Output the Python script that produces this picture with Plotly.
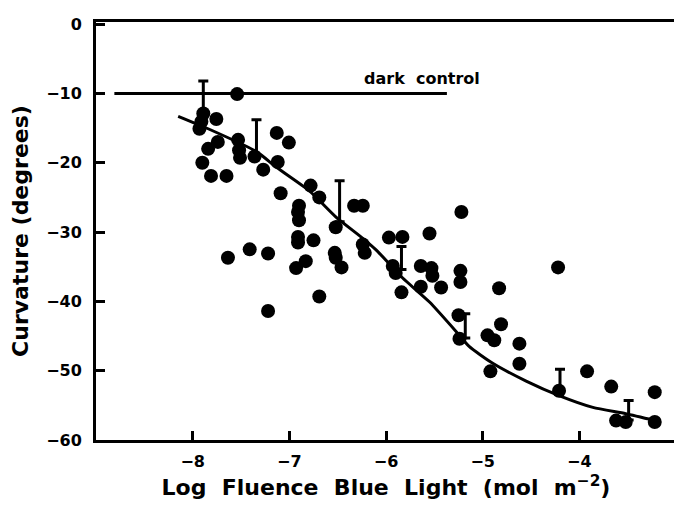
import plotly.graph_objects as go

# Scatter data (log fluence, curvature in degrees)
pts_x = [-7.54, -7.89, -7.91, -7.93, -7.755, -7.74, -7.84, -7.90, -7.81, -7.65,
         -7.53, -7.52, -7.51, -7.36, -7.13, -7.005, -7.12, -7.27, -7.09, -6.78,
         -6.69, -6.90, -6.91, -6.90, -6.33, -6.24, -6.52, -6.91, -6.91, -6.75,
         -6.24, -6.22, -5.97, -7.635, -7.41, -7.22, -6.93, -6.83, -6.53, -6.52,
         -6.46, -6.69, -7.22, -5.22, -5.55, -5.83, -5.93, -5.90, -5.84, -5.64,
         -5.53, -5.52, -5.64, -5.43, -5.23, -5.23, -4.22, -4.83, -5.25, -5.24,
         -4.81, -4.95, -4.88, -4.62, -4.62, -4.92, -4.21, -3.92, -3.67, -3.62,
         -3.52, -3.22, -3.22]
pts_y = [-10.1, -12.9, -14.1, -15.1, -13.7, -17.0, -18.0, -20.0, -21.9, -21.9,
         -16.7, -18.2, -19.3, -19.1, -15.7, -17.1, -19.9, -21.0, -24.4, -23.3,
         -25.0, -26.2, -27.1, -28.3, -26.2, -26.2, -29.3, -30.7, -31.5, -31.2,
         -31.8, -33.0, -30.8, -33.7, -32.5, -33.1, -35.2, -34.2, -33.0, -33.7,
         -35.1, -39.3, -41.4, -27.1, -30.2, -30.7, -34.9, -35.9, -38.7, -34.9,
         -35.2, -36.3, -37.9, -38.0, -35.6, -37.2, -35.1, -38.1, -42.0, -45.4,
         -43.3, -44.9, -45.6, -46.1, -49.0, -50.1, -52.9, -50.1, -52.3, -57.2,
         -57.4, -53.1, -57.4]

# Mean values with one-sided error bars
err_x = [-7.89, -7.34, -6.48, -5.84, -5.18, -4.20, -3.49]
err_y = [-13.0, -19.0, -28.5, -35.4, -45.3, -53.0, -57.1]
err_up = [4.8, 5.2, 5.9, 3.3, 3.5, 3.2, 2.8]

fit_x = [-8.15, -7.84, -7.34, -7.13, -6.79, -6.52, -6.24, -6.10, -5.83, -5.55,
         -5.24, -5.14, -4.90, -4.55, -4.21, -3.86, -3.52, -3.21]
fit_y = [-13.3, -15.1, -18.4, -20.7, -24.1, -27.8, -30.9, -32.6, -36.6, -40.1,
         -44.9, -46.5, -48.9, -51.5, -53.6, -55.3, -56.2, -57.2]

# Dark control line
dark_x = [-8.81, -5.37]
dark_y = [-10.0, -10.0]
dark_label = "dark  control"
dark_label_pos = (-5.63, -7.8)

x_ticks = [-8, -7, -6, -5, -4]
y_ticks = [0, -10, -20, -30, -40, -50, -60]

FONT = "DejaVu Sans"

fig = go.Figure()
fig.add_trace(go.Scatter(x=dark_x, y=dark_y, mode="lines",
                         line=dict(color="black", width=3), hoverinfo="skip"))
fig.add_trace(go.Scatter(x=fit_x, y=fit_y, mode="lines",
                         line=dict(color="black", width=3, shape="spline", smoothing=0.6),
                         hoverinfo="skip"))
fig.add_trace(go.Scatter(x=err_x, y=err_y, mode="markers",
                         marker=dict(size=1, color="black"),
                         error_y=dict(type="data", symmetric=False, array=err_up,
                                      arrayminus=[0] * len(err_up),
                                      color="black", thickness=3, width=5)))
fig.add_trace(go.Scatter(x=pts_x, y=pts_y, mode="markers",
                         marker=dict(size=14, color="black", line=dict(width=0))))

fig.add_annotation(x=dark_label_pos[0], y=dark_label_pos[1], text=dark_label,
                   showarrow=False, xref="x", yref="y",
                   font=dict(family=FONT, size=16, color="black", weight="bold"))

axis_common = dict(showline=True, linecolor="black", linewidth=3, mirror=True,
                   ticks="inside", ticklen=9, tickwidth=2.5, tickcolor="black",
                   showgrid=False, zeroline=False,
                   tickfont=dict(family=FONT, size=16, color="black", weight="bold"))

fig.update_layout(
    width=682, height=506,
    margin=dict(l=88, r=14, t=7, b=74),
    paper_bgcolor="white", plot_bgcolor="white",
    showlegend=False,
    xaxis=dict(range=[-9, -3], tickvals=x_ticks, ticklabelstandoff=5,
               title=dict(text="Log  Fluence  Blue  Light  (mol  m<sup>\u22122</sup>)",
                          font=dict(family=FONT, size=22, color="black", weight="bold"),
                          standoff=10),
               **axis_common),
    yaxis=dict(range=[-60, 0.3], tickvals=y_ticks, ticklabelstandoff=8,
               title=dict(text="Curvature (degrees)",
                          font=dict(family=FONT, size=22, color="black", weight="bold"),
                          standoff=12),
               **axis_common),
)

fig.write_html("out.html")
